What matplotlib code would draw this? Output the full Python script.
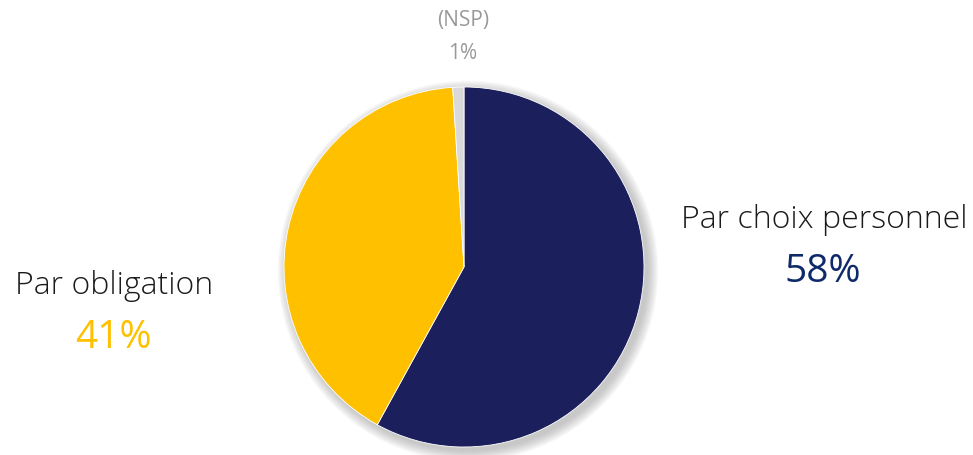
import matplotlib.pyplot as plt
from matplotlib.patches import Circle

labels = ["Par choix personnel", "Par obligation", "(NSP)"]
values = [58, 41, 1]
colors = ["#1B1F5C", "#FFC000", "#D9D9D9"]

plt.rcParams['font.family'] = ['Open Sans', 'DejaVu Sans']

fig = plt.figure(figsize=(9.73, 4.56), dpi=100)
ax = fig.add_axes([0, 0, 1, 1])

cx, cy, r = 464, 188, 180

# soft shadow bottom-right
for i in range(14):
    ax.add_patch(Circle((cx + 4, cy - 4), r + i * 0.8, color='grey',
                        alpha=0.035, lw=0, zorder=0))

ax.pie(values, colors=colors, startangle=90, counterclock=False,
       center=(cx, cy), radius=r, frame=True,
       wedgeprops=dict(edgecolor='white', linewidth=0.6))
ax.set_xlim(0, 973)
ax.set_ylim(0, 456)
ax.set_aspect('equal')
ax.axis('off')

ax.text(824, 456 - 220, labels[0], ha='center', va='center', fontsize=23,
        color='#1a1a1a', fontweight='light')
ax.text(823, 456 - 272, f"{values[0]}%", ha='center', va='center', fontsize=28,
        color='#0F2A6B')
ax.text(114, 456 - 286, labels[1], ha='center', va='center', fontsize=23,
        color='#1a1a1a', fontweight='light')
ax.text(113, 456 - 338, f"{values[1]}%", ha='center', va='center', fontsize=28,
        color='#FFC000')
ax.text(463, 456 - 20, labels[2], ha='center', va='center', fontsize=15,
        color='#999999')
ax.text(463, 456 - 53, f"{values[2]}%", ha='center', va='center', fontsize=15,
        color='#999999')

fig.savefig('out.png', dpi=100)
